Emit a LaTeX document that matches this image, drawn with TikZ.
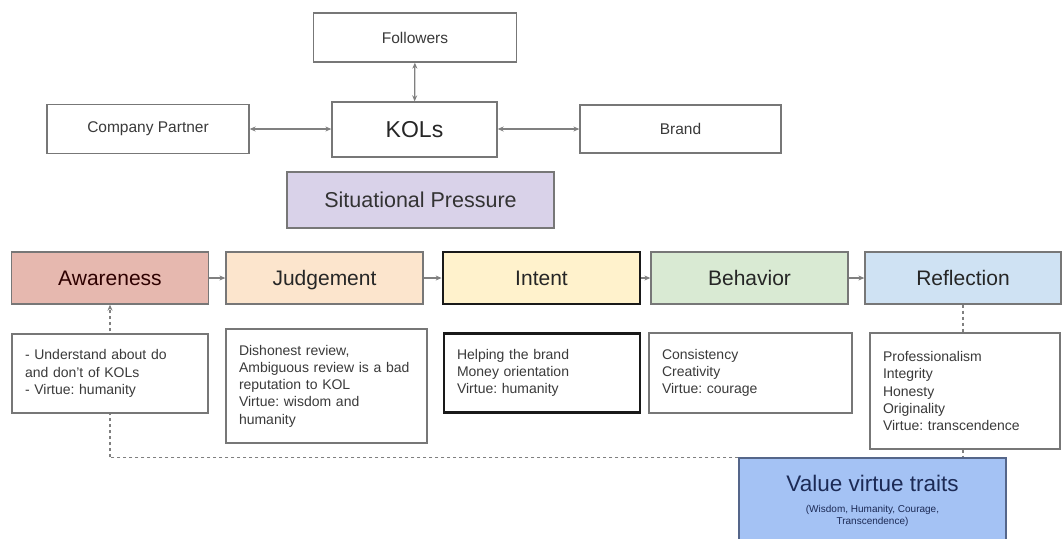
\documentclass[tikz,border=0pt]{standalone}
\usepackage{fontspec}
\setmainfont{Liberation Sans}
\usetikzlibrary{arrows.meta}
\frenchspacing
\definecolor{bordergray}{HTML}{777777}
\definecolor{smalltext}{HTML}{3A3A3A}
\definecolor{awfill}{HTML}{E6B8AF}
\definecolor{jdfill}{HTML}{FCE5CD}
\definecolor{infill}{HTML}{FFF2CC}
\definecolor{bhfill}{HTML}{D9EAD3}
\definecolor{rffill}{HTML}{CFE2F3}
\definecolor{spfill}{HTML}{D9D2E9}
\definecolor{vafill}{HTML}{A4C2F4}
\definecolor{vaborder}{HTML}{55668A}
\definecolor{vatext}{HTML}{1C2A55}
\definecolor{linegray}{HTML}{808080}
\begin{document}
\begin{tikzpicture}[x=1pt,y=-1pt,
  plainbox/.style={draw=bordergray, line width=1.3pt, fill=white, inner sep=0pt,
    text=smalltext, font=\fontsize{15.5}{18}\selectfont},
  procbox/.style={draw=bordergray, line width=1.3pt, inner sep=0pt, minimum height=52pt,
    minimum width=197pt, text height=15pt, text depth=0pt, font=\fontsize{21}{24}\selectfont},
  descbox/.style={draw=bordergray, line width=1.3pt, fill=white, inner xsep=13pt, inner ysep=0pt,
    align=left, text=smalltext, font=\fontsize{14}{17.3}\selectfont},
  thickbox/.style={draw=black!90, line width=2.8pt},
  arr/.style={draw=linegray, line width=1.2pt, -{Stealth[length=6pt,width=5pt]}},
  biarr/.style={draw=linegray, line width=1.2pt, {Stealth[length=6pt,width=5pt]}-{Stealth[length=6pt,width=5pt]}},
  dashline/.style={draw=linegray, line width=1.2pt, dash pattern=on 3pt off 3pt}
]
\useasboundingbox (0,0) rectangle (1062,538);

% top group
\node[plainbox, minimum width=203pt, minimum height=49pt] (fol) at (415,37.5) {Followers};
\node[plainbox, minimum width=202pt, minimum height=49pt] (cp) at (148,129) {Company Partner};
\node[plainbox, minimum width=165pt, minimum height=55pt, font=\fontsize{23}{26}\selectfont, text=black!85] (kols) at (414.5,129.5) {KOLs};
\node[plainbox, minimum width=201pt, minimum height=48pt] (br) at (680.5,129) {Brand};
\node[draw=bordergray, line width=1.3pt, fill=spfill, inner sep=0pt, minimum width=267pt,
  minimum height=56pt, font=\fontsize{21.5}{24}\selectfont, text=black!80] (sp) at (420.5,200) {Situational Pressure};

\draw[biarr] (fol) -- (kols);
\draw[biarr] (cp.east) -- (cp.east -| kols.west);
\draw[biarr] (kols.east |- br.west) -- (br.west);

% process row
\node[procbox, fill=awfill, text=black!80!red!90!black] (aw) at (110,278) {Awareness};
\node[procbox, fill=jdfill, text=black!85] (jd) at (324.5,278) {Judgement};
\node[procbox, thickbox, fill=infill, text=black!85] (in) at (541.5,278) {Intent};
\node[procbox, fill=bhfill, text=black!85] (bh) at (749.5,278) {Behavior};
\node[procbox, fill=rffill, text=black!85, minimum width=196pt] (rf) at (963,278) {Reflection};

\draw[arr] (aw) -- (jd);
\draw[arr] (jd) -- (in);
\draw[arr] (in) -- (bh);
\draw[arr] (bh) -- (rf);

% value box
\node[draw=vaborder, line width=1.3pt, fill=vafill, inner sep=0pt, minimum width=267pt,
  minimum height=86pt, align=center, text=vatext, font=\fontsize{22.5}{25}\selectfont] (va) at (872.5,501)
  {Value virtue traits\\[-4pt]{\fontsize{10}{11.5}\selectfont (Wisdom, Humanity, Courage,}\\[-13pt]{\fontsize{10}{11.5}\selectfont Transcendence)}};

% dashed feedback line (drawn before description boxes)
\coordinate (corner) at (aw.south |- va.north west);
\draw[dashline] (va.north west) -- (corner);
\draw[dashline, -{Stealth[length=6pt,width=5pt]}] (corner) -- (aw.south);

% description boxes
\node[descbox, text width=170pt, minimum height=79pt] (awd) at (110,373.5)
  {- Understand about do\\and don't of KOLs\\- Virtue: humanity};
\node[descbox, text width=175pt, minimum height=114pt] (jdd) at (326.5,386)
  {Dishonest review,\\Ambiguous review is a bad\\reputation to KOL\\Virtue: wisdom and\\humanity};
\node[descbox, thickbox, text width=170pt, minimum height=79pt] (ind) at (542,373)
  {Helping the brand\\Money orientation\\Virtue: humanity};
\node[descbox, text width=177pt, minimum height=80pt] (bhd) at (750.5,373)
  {Consistency\\Creativity\\Virtue: courage};
\node[descbox, text width=164pt, minimum height=116pt] (rfd) at (965,391)
  {Professionalism\\Integrity\\Honesty\\Originality\\Virtue: transcendence};

\draw[dashline] (rf.south) -- (rf.south |- rfd.north);
\draw[dashline] (rfd.south -| rf.south) -- (rf.south |- va.north);
\end{tikzpicture}
\end{document}
